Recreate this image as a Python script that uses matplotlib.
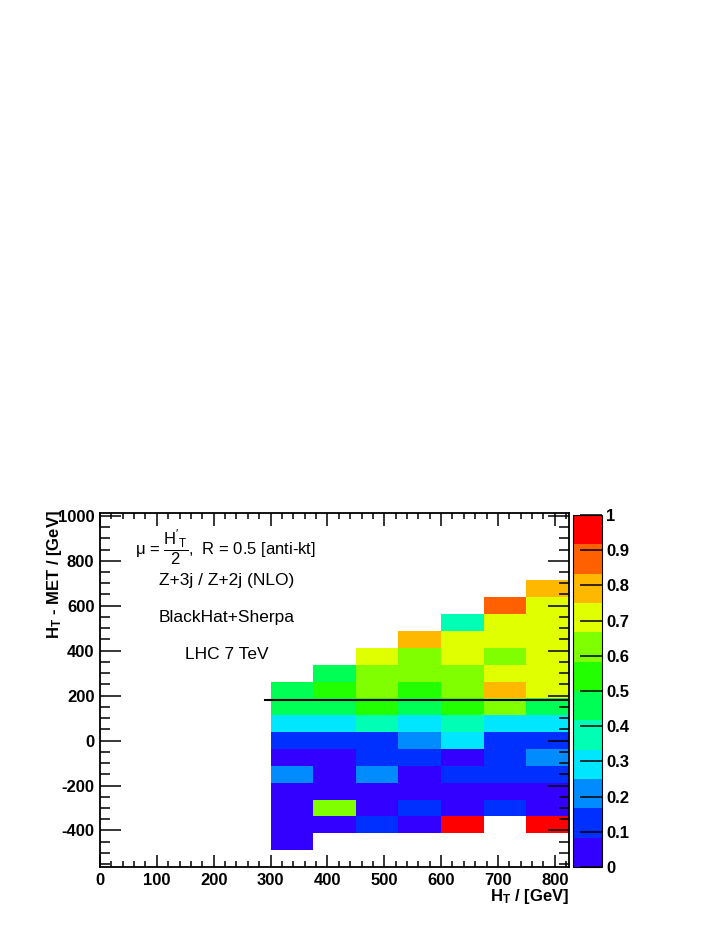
import numpy as np
import matplotlib

matplotlib.use("Agg")
import matplotlib.pyplot as plt
from matplotlib.colors import ListedColormap, BoundaryNorm

plt.rcParams["font.family"] = ["Liberation Sans", "DejaVu Sans"]
plt.rcParams["mathtext.fontset"] = "custom"
plt.rcParams["mathtext.rm"] = "Liberation Sans"
plt.rcParams["mathtext.it"] = "Liberation Sans:italic"
plt.rcParams["mathtext.bf"] = "Liberation Sans:bold"
plt.rcParams["axes.unicode_minus"] = False

# bin edges of the 2D histogram
ht_edges = np.arange(300, 826, 75)          # H_T / GeV
diff_edges = np.arange(-487.5, 713, 75)     # H_T - MET / GeV

nan = np.nan
# ratio per cell, rows listed from the top row (675) down to the bottom row (-450)
ratio_rows = [
    [nan, nan, nan, nan, nan, nan, 0.79],
    [nan, nan, nan, nan, nan, 0.87, 0.71],
    [nan, nan, nan, nan, 0.37, 0.71, 0.71],
    [nan, nan, nan, 0.79, 0.71, 0.71, 0.71],
    [nan, nan, 0.71, 0.62, 0.71, 0.62, 0.71],
    [nan, 0.46, 0.62, 0.62, 0.62, 0.71, 0.71],
    [0.46, 0.54, 0.62, 0.54, 0.62, 0.79, 0.71],
    [0.46, 0.46, 0.54, 0.46, 0.54, 0.62, 0.46],
    [0.29, 0.29, 0.37, 0.29, 0.37, 0.29, 0.29],
    [0.12, 0.12, 0.12, 0.21, 0.29, 0.12, 0.12],
    [0.04, 0.04, 0.12, 0.12, 0.04, 0.12, 0.21],
    [0.21, 0.04, 0.21, 0.04, 0.12, 0.12, 0.12],
    [0.04, 0.04, 0.04, 0.04, 0.04, 0.04, 0.04],
    [0.04, 0.62, 0.04, 0.12, 0.04, 0.12, 0.04],
    [0.04, 0.04, 0.12, 0.04, 0.96, nan, 0.96],
    [0.04, nan, nan, nan, nan, nan, nan],
]

palette = [
    "#3300ff", "#0030ff", "#008cff", "#00e6ff", "#00ffb4", "#00ff55",
    "#22ff00", "#80ff00", "#e0ff00", "#ffb800", "#ff6000", "#ff0000",
]
z_levels = np.linspace(0, 1, len(palette) + 1)
cbar_ticks = np.round(np.arange(0, 1.01, 0.1), 1)

cut_y = 180
cut_x = (290, 822)

fig = plt.figure(figsize=(7.23, 9.35), dpi=100)
W, H = 723, 935
ax = fig.add_axes([100 / W, (H - 867) / H, 469 / W, 354 / H])
cax = fig.add_axes([573 / W, (H - 867) / H, 29 / W, 352 / H])

z = np.ma.masked_invalid(np.array(ratio_rows)[::-1])
cmap = ListedColormap(palette)
norm = BoundaryNorm(z_levels, cmap.N)
mesh = ax.pcolormesh(ht_edges, diff_edges, z, cmap=cmap, norm=norm)

ax.plot(cut_x, [cut_y, cut_y], color="black", lw=1.5)

ax.set_xlim(0, 825)
ax.set_ylim(-562.5, 1012.5)
ax.set_xticks(np.arange(0, 801, 100))
ax.set_xticks(np.arange(0, 825, 20), minor=True)
ax.set_yticks(np.arange(-400, 1001, 200))
ax.set_yticks(np.arange(-550, 1001, 50), minor=True)
for side in ax.spines.values():
    side.set_linewidth(1.3)
ax.tick_params(axis="both", which="both", direction="in", top=True, right=True,
               labelsize=12, width=1.1)
ax.tick_params(axis="x", which="major", length=9, pad=4)
ax.tick_params(axis="x", which="minor", length=4.5)
ax.tick_params(axis="y", which="major", length=15, pad=4)
ax.tick_params(axis="y", which="minor", length=7.5)
for lab in ax.get_xticklabels() + ax.get_yticklabels():
    lab.set_fontweight("bold")

fig.text(569 / W, (H - 897) / H, r"H$_\mathbf{T}$ / [GeV]", ha="right", va="center",
         fontsize=12, fontweight="bold")
fig.text(54 / W, (H - 510) / H, r"H$_\mathbf{T}$ - MET / [GeV]", ha="center", va="top",
         rotation=90, fontsize=12, fontweight="bold")

ax.text(61, 860, r"μ = $\dfrac{\mathrm{H'_T}}{2}$,  R = 0.5 [anti-kt]", fontsize=12,
        va="center")
ax.text(104, 713, "Z+3j / Z+2j (NLO)", fontsize=12.5, va="center")
ax.text(104, 549, "BlackHat+Sherpa", fontsize=12.5, va="center")
ax.text(149, 385, "LHC 7 TeV", fontsize=12.5, va="center")

cb = fig.colorbar(mesh, cax=cax, ticks=cbar_ticks)
cb.outline.set_linewidth(0.8)
cax.tick_params(direction="in", length=16, width=1.1, labelsize=12, pad=3)
cax.set_yticklabels([f"{t:g}" for t in cbar_ticks], fontweight="bold")
cax.minorticks_off()

fig.savefig("out.png", dpi=100)
